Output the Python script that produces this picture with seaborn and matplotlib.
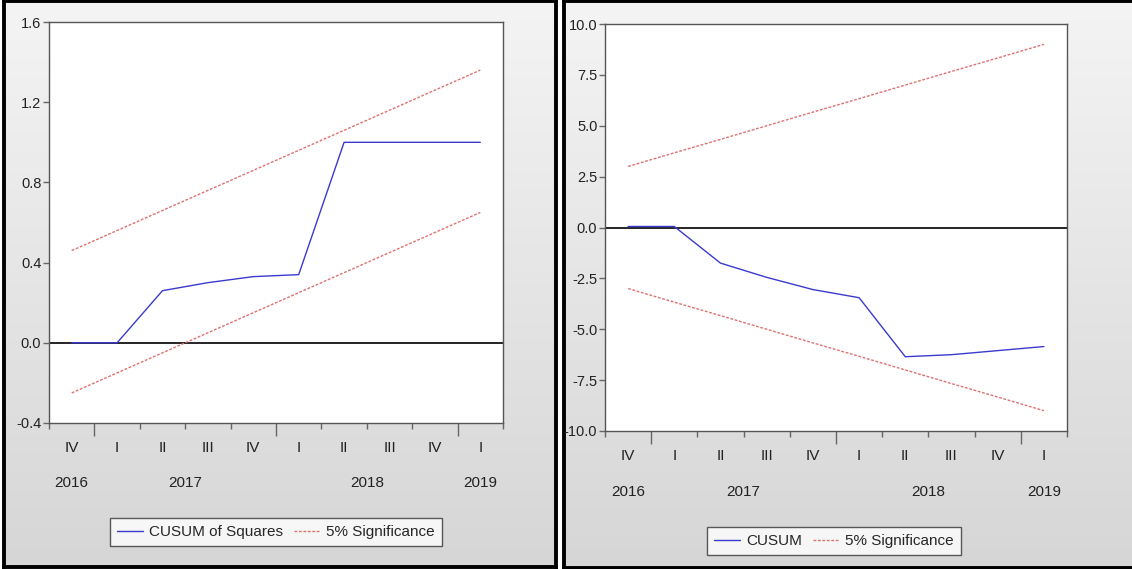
import numpy as np
import pandas as pd
import seaborn as sns
import matplotlib.pyplot as plt
from matplotlib.colors import LinearSegmentedColormap

# ---------------------------------------------------------
# Data
# ---------------------------------------------------------
quarters = ['IV', 'I', 'II', 'III', 'IV', 'I', 'II', 'III', 'IV', 'I']
year_labels = ['2016', '2017', '2018', '2019']
year_label_pos = [0, 2.5, 6.5, 9]
year_breaks = [0.5, 4.5, 8.5]

cusum_sq = [0.0, 0.0, 0.26, 0.30, 0.33, 0.34, 1.0, 1.0, 1.0, 1.0]
cusum_sq_upper = [0.46, 0.56, 0.66, 0.76, 0.86, 0.96, 1.06, 1.16, 1.26, 1.36]
cusum_sq_lower = [-0.25, -0.15, -0.05, 0.05, 0.15, 0.25, 0.35, 0.45, 0.55, 0.65]

cusum = [0.05, 0.05, -1.75, -2.45, -3.05, -3.45, -6.35, -6.25, -6.05, -5.85]
cusum_upper = [3.0, 3.67, 4.33, 5.0, 5.67, 6.33, 7.0, 7.67, 8.33, 9.0]
cusum_lower = [-3.0, -3.67, -4.33, -5.0, -5.67, -6.33, -7.0, -7.67, -8.33, -9.0]

idx = np.arange(len(quarters))
df_sq = pd.DataFrame({'t': idx, 'stat': cusum_sq, 'up': cusum_sq_upper, 'lo': cusum_sq_lower})
df_cu = pd.DataFrame({'t': idx, 'stat': cusum, 'up': cusum_upper, 'lo': cusum_lower})

sns.set_style('white')
plt.rcParams['font.family'] = ['Liberation Sans', 'DejaVu Sans']

W, H = 1132, 569
fig = plt.figure(figsize=(W / 100, H / 100), dpi=100)
fig.patch.set_facecolor('white')

grad = LinearSegmentedColormap.from_list('bg', ['#f4f4f4', '#d6d6d6'])


def px_axes(x0, y0, x1, y1, **kw):
    # pixel box (top-left origin) -> figure axes
    return fig.add_axes([x0 / W, 1 - y1 / H, (x1 - x0) / W, (y1 - y0) / H], **kw)


def panel_bg(x0, y0, x1, y1, show_right=True):
    bg = px_axes(x0, y0, x1, y1, zorder=0)
    bg.imshow(np.linspace(0, 1, 256).reshape(-1, 1), cmap=grad, aspect='auto',
              extent=[0, 1, 0, 1])
    bg.set_xticks([])
    bg.set_yticks([])
    for side, sp in bg.spines.items():
        sp.set_color('black')
        sp.set_linewidth(2.8)
    bg.spines['right'].set_visible(show_right)


def draw_panel(ax, df, ylim, yticks, label, legend_xy, year_offset):
    sns.lineplot(data=df, x='t', y='stat', ax=ax, color='#3a3acf', lw=1.0, label=label)
    sns.lineplot(data=df, x='t', y='up', ax=ax, color='#e07070', lw=1.0,
                 linestyle=(0, (2, 1.2)), label='5% Significance')
    sns.lineplot(data=df, x='t', y='lo', ax=ax, color='#e07070', lw=1.0,
                 linestyle=(0, (2, 1.2)), label='_nolegend_')
    ax.axhline(0, color='black', lw=1.2, zorder=1)

    ax.set_xlim(-0.5, len(quarters) - 0.5)
    ax.set_ylim(*ylim)
    ax.set_yticks(yticks)
    ax.set_yticklabels([f'{v:.1f}' for v in yticks])
    ax.set_xticks(idx)
    ax.set_xticklabels(quarters)
    ax.set_xlabel('')
    ax.set_ylabel('')
    minor = [b for b in np.arange(-0.5, len(quarters), 1.0) if b not in year_breaks]
    ax.set_xticks(minor, minor=True)
    ax.tick_params(axis='x', which='major', length=0, pad=13, labelsize=11, colors='#222222')
    ax.tick_params(axis='x', which='minor', length=4, width=1, color='#666666', bottom=True)
    ax.tick_params(axis='y', length=4, width=1, color='#666666', labelsize=10.5,
                   colors='#222222', left=True, pad=1.5)

    # longer tick marks at year boundaries
    sec = ax.secondary_xaxis('bottom')
    sec.set_xticks(year_breaks)
    sec.set_xticklabels([])
    sec.tick_params(length=9, width=1, color='#666666')
    sec.spines['bottom'].set_visible(False)

    for lab, pos in zip(year_labels, year_label_pos):
        ax.annotate(lab, xy=(pos, 0), xycoords=('data', 'axes fraction'),
                    xytext=(0, year_offset), textcoords='offset points',
                    ha='center', va='center', fontsize=11, color='#222222',
                    annotation_clip=False)

    for side, sp in ax.spines.items():
        sp.set_color('#555555')
        sp.set_linewidth(1.0)
    ax.set_facecolor('white')

    ax.get_legend().remove()
    h, l = ax.get_legend_handles_labels()
    leg = fig.legend(h, l, loc='center',
                     bbox_to_anchor=(legend_xy[0] / W, 1 - legend_xy[1] / H),
                     ncol=2, fontsize=11, frameon=True, fancybox=False,
                     edgecolor='#333333', handlelength=1.7, columnspacing=0.7,
                     handletextpad=0.4, borderpad=0.45, borderaxespad=0)
    leg.get_frame().set_linewidth(1.0)
    leg.get_frame().set_facecolor('white')


panel_bg(4, 1, 556, 567)
panel_bg(564, 1, 1134, 568, show_right=False)

ax1 = px_axes(49, 22, 503, 423, zorder=2)
draw_panel(ax1, df_sq, (-0.4, 1.6), [-0.4, 0.0, 0.4, 0.8, 1.2, 1.6],
           'CUSUM of Squares', (276, 532), -43)

ax2 = px_axes(605, 24, 1067, 431, zorder=2)
draw_panel(ax2, df_cu, (-10, 10), [-10, -7.5, -5, -2.5, 0, 2.5, 5, 7.5, 10],
           'CUSUM', (834, 541), -44)

plt.savefig('out.png', dpi=100)
